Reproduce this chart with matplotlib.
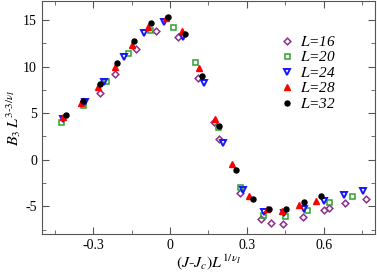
import matplotlib
matplotlib.use("Agg")
import matplotlib.pyplot as plt
from matplotlib.ticker import MultipleLocator

plt.rcParams['font.family'] = 'Liberation Serif'
plt.rcParams['mathtext.fontset'] = 'stix'

# L=16
x16 = [-0.275, -0.214, -0.134, -0.055, 0.030, 0.110, 0.171, 0.192, 0.273, 0.354, 0.393, 0.439, 0.518, 0.599, 0.621, 0.682, 0.764]
y16 = [7.2, 9.2, 11.9, 13.86, 13.2, 8.8, 4.0, 2.2, -3.6, -6.4, -6.75, -6.86, -6.15, -5.36, -5.14, -4.65, -4.2]
# L=20
x20 = [-0.425, -0.339, -0.249, -0.162, -0.078, 0.010, 0.097, 0.187, 0.274, 0.361, 0.447, 0.535, 0.622, 0.710]
y20 = [4.1, 5.9, 8.4, 11.47, 13.97, 14.3, 10.46, 3.5, -2.93, -5.97, -6.08, -5.4, -4.5, -3.9]
# L=24
x24 = [-0.417, -0.332, -0.258, -0.179, -0.101, -0.023, 0.052, 0.132, 0.208, 0.286, 0.365, 0.443, 0.521, 0.599, 0.677, 0.753]
y24 = [4.4, 6.17, 8.36, 11.0, 13.64, 14.8, 13.2, 8.2, 1.82, -3.2, -5.65, -5.7, -5.25, -4.47, -3.83, -3.4]
# L=28
x28 = [-0.419, -0.347, -0.282, -0.214, -0.149, -0.085, -0.017, 0.046, 0.112, 0.177, 0.2415, 0.309, 0.377, 0.4375, 0.504, 0.569]
y28 = [4.6, 6.07, 7.86, 10.0, 12.3, 14.3, 15.2, 13.8, 9.85, 4.4, -0.5, -3.93, -5.3, -5.54, -4.9, -4.4]
# L=32
x32 = [-0.406, -0.340, -0.274, -0.208, -0.141, -0.075, -0.009, 0.058, 0.123, 0.190, 0.256, 0.322, 0.388, 0.453, 0.521, 0.587]
y32 = [4.82, 6.28, 8.18, 10.43, 12.75, 14.72, 15.28, 13.5, 9.0, 3.64, -1.07, -4.18, -5.3, -5.3, -4.58, -3.93]

fig = plt.figure(figsize=(3.77, 2.74), dpi=100)
ax = fig.add_axes([0.111, 0.145, 0.884, 0.85])

ax.plot(x16, y16, 'D', ms=3.4, mfc='none', mec='#8B2F8B', mew=1.1, label='$L$=16')
ax.plot(x20, y20, 's', ms=3.6, mfc='none', mec='#2EA02E', mew=1.1, label='$L$=20')
ax.plot(x24, y24, 'v', ms=4.2, mfc='none', mec='#1515FF', mew=1.4, label='$L$=24')
ax.plot(x28, y28, '^', ms=3.8, color='red', label='$L$=28')
ax.plot(x32, y32, 'o', ms=3.6, color='black', label='$L$=32')

ax.set_xlim(-0.5, 0.8)
ax.set_ylim(-8, 17)
ax.xaxis.set_minor_locator(MultipleLocator(0.15))
ax.yaxis.set_minor_locator(MultipleLocator(2.5))
ax.set_xticks([-0.3, 0, 0.3, 0.6])
ax.set_xticklabels(['-0.3', '0', '0.3', '0.6'])
ax.set_yticks([-5, 0, 5, 10, 15])
ax.set_yticklabels(['-5', '0', '5', '10', '15'])
ax.tick_params(which='both', direction='in', top=True, right=True, labelsize=10, colors='#555555', labelcolor='black')
ax.tick_params(which='major', length=5)
ax.tick_params(which='minor', length=3)
for s in ax.spines.values():
    s.set_color('#555555')

ax.set_xlabel(r'$(J$-$J_c)L^{1/\nu_I}$', fontsize=11.5, labelpad=0)
ax.set_ylabel(r'$B_3\,L^{3\text{-}3/\nu_I}$', fontsize=11.5, labelpad=0)

ax.legend(loc='upper right', bbox_to_anchor=(0.925, 0.915), frameon=False,
          handletextpad=0.4, labelspacing=0.1, handlelength=1.0, prop={'style': 'italic', 'size': 11})

plt.savefig("out.png", dpi=100)
